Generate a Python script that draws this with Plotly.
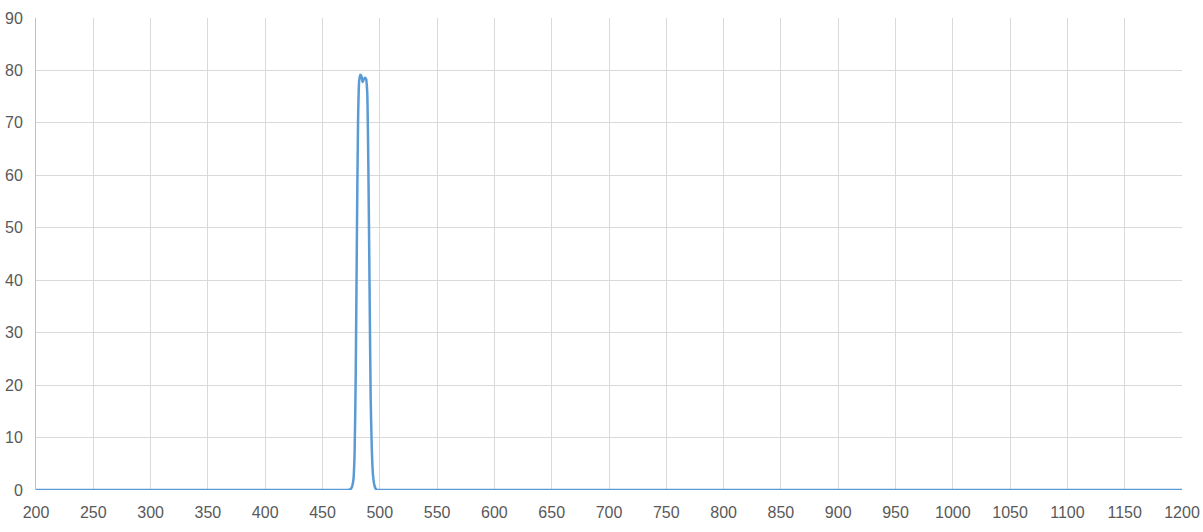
import plotly.graph_objects as go

# transmission spectrum (nm, %)
wavelength = [200, 470, 472, 474, 475, 476, 477, 478, 479, 480, 481, 482, 483, 484,
              485, 486, 487, 488, 489, 490, 491, 492, 493, 494, 495, 496, 497, 498,
              500, 600, 800, 1000, 1200]
transmission = [0, 0, 0, 0.1, 0.3, 0.8, 2, 7, 22, 48, 70, 78, 79.2, 78.9,
                77.8, 78.3, 78.6, 78.4, 76, 62, 40, 18, 8, 3, 1.2, 0.4, 0.1, 0,
                0, 0, 0, 0, 0]

x_ticks = list(range(200, 1201, 50))
y_ticks = list(range(0, 91, 10))

fig = go.Figure()
fig.add_trace(go.Scatter(
    x=wavelength, y=transmission, mode="lines",
    line=dict(color="#5B9BD5", width=2.5, shape="spline", smoothing=0.6),
    hoverinfo="x+y", showlegend=False,
))

grid = "#D9D9D9"
tick_font = dict(family="Liberation Sans, Arial", size=16, color="#595959")
fig.update_xaxes(
    range=[200, 1200], tickvals=x_ticks, showgrid=True, gridcolor=grid, gridwidth=1,
    zeroline=False, showline=False, ticks="outside", ticklen=8, tickcolor="rgba(0,0,0,0)",
    tickfont=tick_font, automargin=False, fixedrange=True,
)
fig.update_yaxes(
    range=[0, 90], tickvals=y_ticks, showgrid=True, gridcolor=grid, gridwidth=1,
    zeroline=False, showline=True, linecolor="#BFBFBF", linewidth=1,
    ticks="outside", ticklen=9, tickcolor="rgba(0,0,0,0)",
    tickfont=tick_font, automargin=False, fixedrange=True,
)
fig.update_layout(
    width=1203, height=532,
    margin=dict(l=36, r=21, t=18, b=42),
    plot_bgcolor="white", paper_bgcolor="white",
)

# drop the default page margin so the figure fills the window exactly
fig.write_html("out.html", config={"displayModeBar": False},
               post_script="document.body.style.margin='0';")
